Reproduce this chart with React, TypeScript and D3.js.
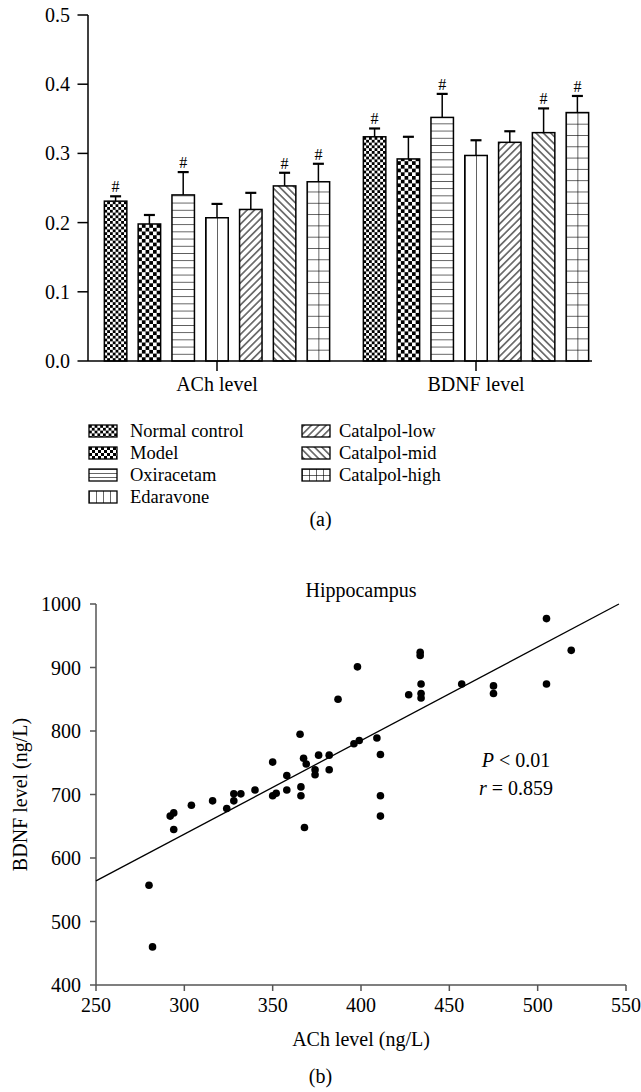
import React from 'react';
import * as d3 from 'd3';

// ---------- Data: panel (a) ----------
const groups = ['ACh level', 'BDNF level'];
const series = ['Normal control', 'Model', 'Oxiracetam', 'Edaravone', 'Catalpol-low', 'Catalpol-mid', 'Catalpol-high'];
const achMeans = [0.231, 0.198, 0.240, 0.207, 0.219, 0.253, 0.259];
const achErrors = [0.007, 0.013, 0.033, 0.020, 0.024, 0.019, 0.026];
const bdnfMeans = [0.324, 0.292, 0.352, 0.297, 0.316, 0.330, 0.359];
const bdnfErrors = [0.012, 0.032, 0.034, 0.022, 0.016, 0.035, 0.024];
const achSig = [true, false, true, false, false, true, true];
const bdnfSig = [true, false, true, false, false, true, true];
const barTicks = [0, 0.1, 0.2, 0.3, 0.4, 0.5];

// ---------- Data: panel (b) ----------
const achValues = [280, 282, 292, 294, 294, 304, 316, 324, 328, 328, 332, 340, 350, 350, 352, 358, 358, 365.5, 366, 366, 367.5, 369, 368, 374, 374, 376, 382, 382, 387, 396, 399, 398, 409, 411, 411, 411, 427, 433.5, 433.5, 434, 434, 434, 457, 475, 475, 505, 505, 519];
const bdnfValues = [557, 460, 666, 671, 645, 683, 690, 678, 701, 690, 701, 707, 751, 698, 702, 730, 707, 795, 712, 698, 757, 748, 648, 739, 731, 762, 762, 739, 850, 780, 785, 901, 789, 763, 698, 666, 857, 919, 924, 874, 859, 852, 874, 871, 859, 977, 874, 927];
const fitX = [250, 546];
const fitY = [564, 1000];
const scatterXTicks = [250, 300, 350, 400, 450, 500, 550];
const scatterYTicks = [400, 500, 600, 700, 800, 900, 1000];

const FONT = 'Liberation Serif, DejaVu Serif, Times New Roman, serif';
const FS = 20;

function patternContent(i: number, w: number, h: number) {
  switch (i) {
    case 0:
      return { pw: 5.6, ph: 5.6, rot: 0, body: (<>
        <rect width={5.6} height={5.6} fill="#fff" />
        <rect width={2.8} height={2.8} fill="#000" />
        <rect x={2.8} y={2.8} width={2.8} height={2.8} fill="#000" />
      </>) };
    case 1:
      return { pw: w, ph: w, rot: 0, body: (<>
        <rect width={w} height={w} fill="#fff" />
        <rect width={w / 2} height={w / 2} fill="#000" />
        <rect x={w / 2} y={w / 2} width={w / 2} height={w / 2} fill="#000" />
      </>) };
    case 2:
      return { pw: 10, ph: h, rot: 0, body: (<>
        <rect width={10} height={h} fill="#fff" />
        <line x1={0} x2={10} y1={0} y2={0} stroke="#000" strokeWidth={1.2} />
      </>) };
    case 3:
      return { pw: w, ph: 10, rot: 0, body: (<>
        <rect width={w} height={10} fill="#fff" />
        <line x1={0} x2={0} y1={0} y2={10} stroke="#000" strokeWidth={1.2} />
      </>) };
    case 4:
      return { pw: 5.2, ph: 10, rot: 45, body: (<>
        <rect width={5.2} height={10} fill="#fff" />
        <line x1={2.6} x2={2.6} y1={0} y2={10} stroke="#000" strokeWidth={1} />
      </>) };
    case 5:
      return { pw: 5.2, ph: 10, rot: -45, body: (<>
        <rect width={5.2} height={10} fill="#fff" />
        <line x1={2.6} x2={2.6} y1={0} y2={10} stroke="#000" strokeWidth={1} />
      </>) };
    default:
      return { pw: w, ph: h, rot: 0, body: (<>
        <rect width={w} height={h} fill="#fff" />
        <line x1={0} x2={w} y1={0} y2={0} stroke="#000" strokeWidth={1.2} />
        <line x1={0} x2={0} y1={0} y2={h} stroke="#000" strokeWidth={1.2} />
      </>) };
  }
}

export default function App() {
  const yBar = d3.scaleLinear().domain([0, 0.5]).range([361, 15]);
  const x0 = d3.scaleBand<string>().domain(groups).range([87.5, 605.5]);
  const x1 = d3.scaleBand<string>().domain(series).range([-118.3, 118.3]).paddingInner(0.335).paddingOuter(0.1675);
  const bw = x1.bandwidth();
  const groupData = [
    { g: groups[0], means: achMeans, errs: achErrors, sig: achSig },
    { g: groups[1], means: bdnfMeans, errs: bdnfErrors, sig: bdnfSig },
  ];

  const xS = d3.scaleLinear().domain([250, 550]).range([96, 626]);
  const yS = d3.scaleLinear().domain([400, 1000]).range([985, 604]);
  const fitLine = d3.line<number>().x((d, i) => xS(fitX[i])).y((d) => yS(d));

  const legendRows = [431, 453, 475, 497];
  const legendItems = series.map((s, i) => {
    const col = i < 4 ? 0 : 1;
    const row = i < 4 ? i : i - 4;
    return { s, i, bx: col === 0 ? 89 : 302, tx: col === 0 ? 130 : 339, cy: legendRows[row] };
  });
  const LBW = 28, LBH = 12;

  const barPatterns: JSX.Element[] = [];
  groupData.forEach((gd, gi) => {
    series.forEach((s, i) => {
      const bx = (x0(gd.g) as number) + x0.bandwidth() / 2 + (x1(s) as number);
      const p = patternContent(i, i === 1 ? 7.4 : bw / 2, i === 2 ? 7.2 : 11.3);
      barPatterns.push(
        <pattern key={`p${gi}-${i}`} id={`bp${gi}-${i}`} patternUnits="userSpaceOnUse"
          width={p.pw} height={p.ph} x={bx} y={361}
          patternTransform={p.rot ? `rotate(${p.rot} ${bx} 361)` : undefined}>
          {p.body}
        </pattern>
      );
    });
  });
  const legendPatterns = legendItems.map((li) => {
    const p = patternContent(li.i, li.i === 1 ? 6 : LBW / 4, li.i === 2 ? 4 : LBH / 2);
    return (
      <pattern key={`lp${li.i}`} id={`lp${li.i}`} patternUnits="userSpaceOnUse"
        width={p.pw} height={p.ph} x={li.bx} y={li.cy - LBH / 2}
        patternTransform={p.rot ? `rotate(${p.rot} ${li.bx} ${li.cy})` : undefined}>
        {p.body}
      </pattern>
    );
  });

  const txt = { fontFamily: FONT, fontSize: FS };
  const legTxt = { fontFamily: FONT, fontSize: 18.5 };

  return (
    <svg width={641} height={1092} style={{ position: 'absolute', left: 0, top: 0, background: '#fff', fontFamily: FONT, fontSize: FS }}>
      <defs>
        {barPatterns}
        {legendPatterns}
      </defs>
      <rect width={641} height={1092} fill="#fff" />

      {/* ===== Panel (a) ===== */}
      <g>
        <line x1={88} x2={88} y1={yBar(0.5)} y2={yBar(0)} stroke="#000" strokeWidth={1.5} />
        {barTicks.map((t) => (
          <g key={t}>
            <line x1={77.5} x2={88} y1={yBar(t)} y2={yBar(t)} stroke="#000" strokeWidth={1.5} />
            <text style={txt} x={70} y={yBar(t)} dy="0.35em" textAnchor="end">{t.toFixed(1)}</text>
          </g>
        ))}
        {groupData.map((gd, gi) => (
          <g key={gd.g}>
            {series.map((s, i) => {
              const bx = (x0(gd.g) as number) + x0.bandwidth() / 2 + (x1(s) as number);
              const cx = bx + bw / 2;
              const top = yBar(gd.means[i]);
              const et = yBar(gd.means[i] + gd.errs[i]);
              return (
                <g key={s}>
                  <line x1={cx} x2={cx} y1={top} y2={et} stroke="#000" strokeWidth={1.5} />
                  <line x1={cx - 5.5} x2={cx + 5.5} y1={et} y2={et} stroke="#000" strokeWidth={2.2} />
                  <rect x={bx} y={top} width={bw} height={yBar(0) - top} fill={`url(#bp${gi}-${i})`} stroke="#000" strokeWidth={1.5} />
                  {gd.sig[i] && (
                    <text style={{ fontFamily: FONT, fontSize: 16 }} x={cx} y={et - 4} textAnchor="middle">#</text>
                  )}
                </g>
              );
            })}
          </g>
        ))}
        <line x1={88} x2={592} y1={yBar(0)} y2={yBar(0)} stroke="#000" strokeWidth={1.5} />
        {groups.map((g) => {
          const cx = (x0(g) as number) + x0.bandwidth() / 2;
          return (
            <g key={g}>
              <line x1={cx} x2={cx} y1={yBar(0)} y2={yBar(0) + 10} stroke="#000" strokeWidth={1.5} />
              <text style={txt} x={cx} y={391} textAnchor="middle">{g}</text>
            </g>
          );
        })}
        {legendItems.map((li) => (
          <g key={li.s}>
            <rect x={li.bx} y={li.cy - LBH / 2} width={LBW} height={LBH} fill={`url(#lp${li.i})`} stroke="#000" strokeWidth={1.3} />
            <text style={legTxt} x={li.tx} y={li.cy + 5.5}>{li.s}</text>
          </g>
        ))}
        <text style={txt} x={320.5} y={526} textAnchor="middle">(a)</text>
      </g>

      {/* ===== Panel (b) ===== */}
      <g>
        <text style={txt} x={361} y={597} textAnchor="middle">Hippocampus</text>
        <line x1={96} x2={96} y1={yS(1000)} y2={yS(400)} stroke="#555" strokeWidth={1.5} />
        <line x1={96} x2={626} y1={yS(400)} y2={yS(400)} stroke="#555" strokeWidth={1.5} />
        {scatterYTicks.map((t) => (
          <g key={t}>
            <line x1={90} x2={96} y1={yS(t)} y2={yS(t)} stroke="#555" strokeWidth={1.5} />
            <text style={txt} x={81} y={yS(t)} dy="0.35em" textAnchor="end">{t}</text>
          </g>
        ))}
        {scatterXTicks.map((t) => (
          <g key={t}>
            <line x1={xS(t)} x2={xS(t)} y1={yS(400)} y2={yS(400) + 6} stroke="#555" strokeWidth={1.5} />
            <text style={txt} x={xS(t)} y={1012} textAnchor="middle">{t}</text>
          </g>
        ))}
        <path d={fitLine(fitY) || ''} stroke="#000" strokeWidth={1.3} fill="none" />
        {achValues.map((v, i) => (
          <circle key={i} cx={xS(v)} cy={yS(bdnfValues[i])} r={3.8} fill="#000" />
        ))}
        <text style={txt} x={516} y={767} textAnchor="middle"><tspan fontStyle="italic">P</tspan> &lt; 0.01</text>
        <text style={txt} x={516} y={795} textAnchor="middle"><tspan fontStyle="italic">r</tspan> = 0.859</text>
        <text style={txt} x={361} y={1046} textAnchor="middle">ACh level (ng/L)</text>
        <text style={txt} transform={`translate(27, ${(yS(400) + yS(1000)) / 2}) rotate(-90)`} textAnchor="middle">BDNF level (ng/L)</text>
        <text style={txt} x={320.5} y={1083} textAnchor="middle">(b)</text>
      </g>
    </svg>
  );
}
